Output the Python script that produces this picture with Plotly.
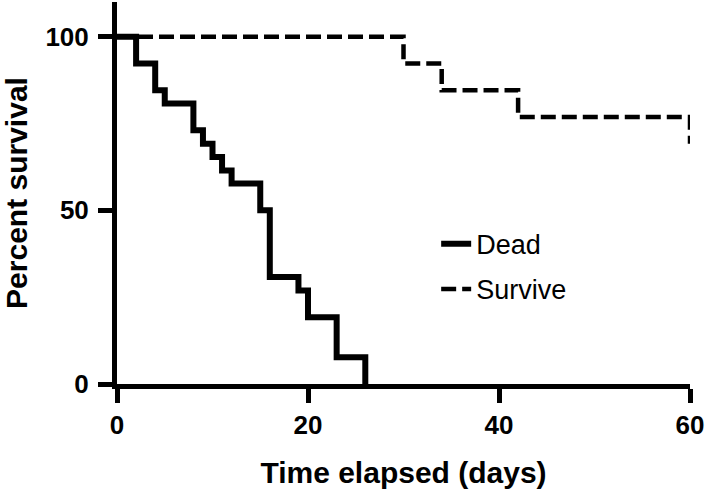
import plotly.graph_objects as go

# Kaplan-Meier style survival data (days, percent survival)
dead_days = [0, 2, 4, 5, 8, 9, 10, 11, 12, 15, 16, 19, 20, 23, 26]
dead_pct = [100, 92.3, 84.6, 80.8, 73.1, 69.2, 65.4, 61.5, 57.7, 50.0, 30.8, 26.9, 19.2, 7.7, 0]

surv_days = [0, 30, 34, 42, 60]
surv_pct = [100, 92.3, 84.6, 76.9, 69.2]

x_ticks = [0, 20, 40, 60]
y_ticks = [0, 50, 100]

fig = go.Figure()
fig.add_trace(go.Scatter(
    x=dead_days, y=dead_pct, mode="lines", name="Dead",
    line=dict(shape="hv", color="black", width=6),
    legendgroup="a",
))
fig.add_trace(go.Scatter(
    x=surv_days, y=surv_pct, mode="lines", name="Survive",
    line=dict(shape="hv", color="black", width=4.5, dash="15px,6px"),
    legendgroup="b",
))

axis_font = dict(family="Liberation Sans, Arial, sans-serif", size=26, color="black")
title_font = dict(family="Liberation Sans, Arial, sans-serif", size=30, color="black")

fig.update_layout(
    width=709, height=492,
    margin=dict(l=117, r=19, t=2, b=108),
    plot_bgcolor="white", paper_bgcolor="white",
    showlegend=True,
    legend=dict(
        x=0.557, y=0.43, xanchor="left", yanchor="top",
        font=dict(family="Liberation Sans, Arial, sans-serif", size=27, color="black"),
        bgcolor="rgba(0,0,0,0)", tracegroupgap=7,
    ),
    xaxis=dict(
        range=[0, 60], tickvals=x_ticks, ticktext=[str(v) for v in x_ticks],
        showline=True, linecolor="black", linewidth=5,
        ticks="outside", ticklen=14, tickwidth=5, tickcolor="black",
        showgrid=False, zeroline=False,
        tickfont=dict(**axis_font, weight="bold"),
        title=dict(text="<b>Time elapsed (days)</b>", font=title_font, standoff=24),
        automargin=False,
    ),
    yaxis=dict(
        range=[0, 110], tickvals=y_ticks, ticktext=[str(v) for v in y_ticks],
        showline=True, linecolor="black", linewidth=5,
        ticks="outside", ticklen=14, tickwidth=5, tickcolor="black",
        showgrid=False, zeroline=False,
        tickfont=dict(**axis_font, weight="bold"),
        ticklabelstandoff=4,
        title=dict(text="<b>Percent survival</b>", font=title_font, standoff=13),
        automargin=False,
    ),
)

fig.write_html(
    "out.html",
    config={"displayModeBar": False},
    post_script="document.body.style.margin='0';document.body.style.overflow='hidden';",
)
